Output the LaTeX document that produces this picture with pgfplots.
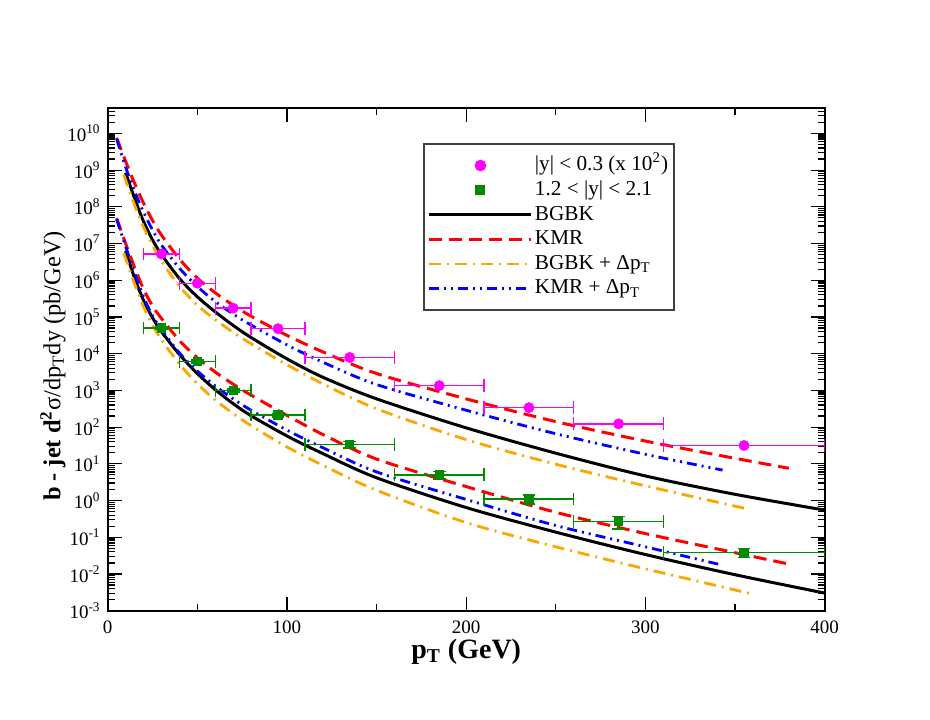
\documentclass[border=0pt]{standalone}
\usepackage{fontspec}
\setmainfont{Liberation Serif}
\usepackage{pgfplots}
\usepackage{pgfplotstable}
\pgfplotsset{compat=1.18}
\definecolor{grmag}{RGB}{255,0,255}
\definecolor{grgreen}{RGB}{0,139,0}
\definecolor{grorange}{RGB}{255,165,0}
\definecolor{grblue}{RGB}{0,0,255}
\definecolor{grred}{RGB}{255,0,0}

\pgfplotstableread{
x y xm xp
30 5.2e6 10 10
50 8.3e5 10 10
70 1.74e5 10 10
95 4.8e4 15 15
135 7.9e3 25 25
185 1.35e3 25 25
235 3.39e2 25 25
285 1.23e2 25 25
355 3.16e1 45 45
}\magdata

\pgfplotstableread{
x y xm xp ye
30 5.0e4 10 10 5e3
50 6.2e3 10 10 6e2
70 1.0e3 10 10 1e2
95 2.14e2 15 15 25
135 3.4e1 25 25 7
185 5.0 25 25 1.1
235 1.1 25 25 0.3
285 0.27 25 25 0.1
355 0.039 45 45 0.011
}\greendata

% upper group (|y|<0.3, x 10^2)
\pgfplotstableread{
x y
10 8.511e8
15 1.698e8
20 3.981e7
25 1.259e7
30 5.012e6
40 1.122e6
50 3.548e5
60 1.380e5
70 5.888e4
80 2.754e4
100 7.244e3
120 2.291e3
150 5.888e2
200 9.550e1
250 1.950e1
300 4.677
350 1.479
400 0.5495
}\ubgbk

\pgfplotstableread{
x y
5 7.586e9
10 1.738e9
15 4.365e8
20 1.259e8
25 4.266e7
30 1.698e7
40 3.802e6
50 1.148e6
60 4.571e5
70 2.089e5
80 1.047e5
100 3.162e4
120 1.122e4
150 2.884e3
200 5.888e2
250 1.413e2
300 4.169e1
350 1.413e1
380 7.586
}\ukmr

\pgfplotstableread{
x y
9 7.413e8
15 1.122e8
20 2.818e7
25 8.913e6
30 3.311e6
40 6.918e5
50 2.089e5
60 8.511e4
70 3.802e4
80 1.862e4
100 5.012e3
120 1.514e3
150 3.162e2
200 4.571e1
250 9.772
300 2.512
358 0.5754
}\ubgbkd

\pgfplotstableread{
x y
5 7.079e9
10 1.202e9
15 2.630e8
20 7.244e7
25 2.344e7
30 9.120e6
40 2.138e6
50 6.761e5
60 2.630e5
70 1.202e5
80 6.026e4
100 1.738e4
120 5.888e3
150 1.445e3
200 2.884e2
250 6.607e1
300 1.820e1
343 6.761
}\ukmrd

% lower group (1.2<|y|<2.1)
\pgfplotstableread{
x y
10 6.310e6
15 1.148e6
20 2.818e5
25 9.550e4
30 3.981e4
40 9.550e3
50 2.884e3
60 1.047e3
70 4.365e2
80 2.042e2
100 5.754e1
120 1.905e1
150 4.169
200 0.6457
250 0.1380
300 0.03388
350 0.009550
400 0.003020
}\lbgbk

\pgfplotstableread{
x y
5 4.898e7
10 1.0e7
15 2.239e6
20 5.754e5
25 1.995e5
30 9.120e4
40 2.291e4
50 7.762e3
60 3.162e3
70 1.479e3
80 7.413e2
100 2.089e2
120 6.310e1
150 1.349e1
200 2.399
250 0.4786
300 0.1259
350 0.03802
380 0.01862
}\lkmr

\pgfplotstableread{
x y
9 5.495e6
15 7.943e5
20 1.905e5
25 6.026e4
30 2.399e4
40 5.248e3
50 1.514e3
60 5.495e2
70 2.344e2
80 1.096e2
100 2.884e1
120 9.120
150 1.905
200 0.2512
250 0.05495
300 0.01380
360 0.002818
}\lbgbkd

\pgfplotstableread{
x y
5 4.571e7
10 8.318e6
15 1.585e6
20 3.548e5
25 1.072e5
30 4.571e4
40 1.047e4
50 3.388e3
60 1.318e3
70 5.888e2
80 2.884e2
100 8.318e1
120 2.754e1
150 6.026
200 1.072
250 0.2089
300 0.05495
343 0.01738
}\lkmrd

\begin{document}
\begin{tikzpicture}
\useasboundingbox (0,0) rectangle (465pt,359.5pt);
\begin{axis}[
  at={(53.85pt,54.15pt)}, anchor=south west,
  scale only axis, width=358.5pt, height=251.5pt,
  ymode=log,
  xmin=0, xmax=400, ymin=1e-3, ymax=5.01e10,
  xtick={0,100,200,300,400},
  xticklabels={0,100,200,300,400},
  minor x tick num=1,
  ytick={1e-3,1e-2,1e-1,1,1e1,1e2,1e3,1e4,1e5,1e6,1e7,1e8,1e9,1e10},
  yticklabels={10\textsuperscript{-3},10\textsuperscript{-2},10\textsuperscript{-1},10\textsuperscript{0},10\textsuperscript{1},10\textsuperscript{2},10\textsuperscript{3},10\textsuperscript{4},10\textsuperscript{5},10\textsuperscript{6},10\textsuperscript{7},10\textsuperscript{8},10\textsuperscript{9},10\textsuperscript{10}},
  minor ytick={2e-3,3e-3,4e-3,5e-3,6e-3,7e-3,8e-3,9e-3,
    2e-2,3e-2,4e-2,5e-2,6e-2,7e-2,8e-2,9e-2,
    2e-1,3e-1,4e-1,5e-1,6e-1,7e-1,8e-1,9e-1,
    2,3,4,5,6,7,8,9,
    2e1,3e1,4e1,5e1,6e1,7e1,8e1,9e1,
    2e2,3e2,4e2,5e2,6e2,7e2,8e2,9e2,
    2e3,3e3,4e3,5e3,6e3,7e3,8e3,9e3,
    2e4,3e4,4e4,5e4,6e4,7e4,8e4,9e4,
    2e5,3e5,4e5,5e5,6e5,7e5,8e5,9e5,
    2e6,3e6,4e6,5e6,6e6,7e6,8e6,9e6,
    2e7,3e7,4e7,5e7,6e7,7e7,8e7,9e7,
    2e8,3e8,4e8,5e8,6e8,7e8,8e8,9e8,
    2e9,3e9,4e9,5e9,6e9,7e9,8e9,9e9,
    2e10,3e10,4e10,5e10},
  tick pos=both,
  tick align=inside,
  major tick length=7pt,
  minor tick length=3.5pt,
  every tick/.style={black, line width=0.6pt},
  axis line style={line width=1pt},
  xticklabel style={font=\fontsize{9.5}{11}\selectfont, yshift=-1.3pt},
  yticklabel style={font=\fontsize{9.5}{11}\selectfont},
  xlabel={\textbf{p\textsubscript{T} (GeV)}},
  xlabel style={font=\fontsize{14}{16}\selectfont, at={(axis description cs:0.5,-0.0946)}, anchor=base},
  ylabel={\textbf{b - jet d\textsuperscript{2}}σ/dp\textsubscript{T}dy (pb/GeV)},
  ylabel style={font=\fontsize{12.2}{15}\selectfont, at={(axis description cs:-0.0763,0.4865)}, anchor=center},
  legend image code/.code={\draw[mark repeat=2,mark phase=2,#1] plot coordinates {(0pt,0pt) (25.5pt,0pt) (51pt,0pt)};},
  legend cell align=left,
  legend style={at={(axis description cs:0.440,0.929)}, anchor=north west,
    draw=black!75, line width=0.8pt, font=\fontsize{10.6}{12}\selectfont,
    inner xsep=2pt, inner ysep=4.5pt,
    nodes={inner sep=1pt, text height=7.8pt, text depth=2.5pt},
    /tikz/every even column/.append style={column sep=10.5pt}},
  error bars/error mark=|,
]
\addlegendimage{only marks, mark=*, mark size=2.5pt, color=grmag}
\addlegendimage{only marks, mark=square*, mark size=2.1pt, color=grgreen}
\addlegendimage{black, line width=1.5pt}
\addlegendimage{grred, line width=1.5pt, dash pattern=on 6.5pt off 3.5pt}
\addlegendimage{grorange, line width=1.4pt, dash pattern=on 6pt off 3pt on 1pt off 3pt}
\addlegendimage{grblue, line width=1.4pt, dash pattern=on 5pt off 2.5pt on 1pt off 2.5pt on 1pt off 2.5pt}
\legend{{|y| < 0.3 (x 10\textsuperscript{2})},{1.2 < |y| < 2.1},BGBK,KMR,{BGBK + Δp\textsubscript{T}},{KMR + Δp\textsubscript{T}}}

% theory curves
\addplot[forget plot, black, line width=1.5pt, smooth] table {\ubgbk};
\addplot[forget plot, black, line width=1.5pt, smooth] table {\lbgbk};
\addplot[forget plot, grred, line width=1.5pt, dash pattern=on 6.5pt off 3.5pt, smooth] table {\ukmr};
\addplot[forget plot, grred, line width=1.5pt, dash pattern=on 6.5pt off 3.5pt, smooth] table {\lkmr};
\addplot[forget plot, grorange, line width=1.4pt, dash pattern=on 6pt off 3pt on 1pt off 3pt, smooth] table {\ubgbkd};
\addplot[forget plot, grorange, line width=1.4pt, dash pattern=on 6pt off 3pt on 1pt off 3pt, smooth] table {\lbgbkd};
\addplot[forget plot, grblue, line width=1.4pt, dash pattern=on 5pt off 2.5pt on 1pt off 2.5pt on 1pt off 2.5pt, smooth] table {\ukmrd};
\addplot[forget plot, grblue, line width=1.4pt, dash pattern=on 5pt off 2.5pt on 1pt off 2.5pt on 1pt off 2.5pt, smooth] table {\lkmrd};

% data
\addplot[forget plot, only marks, mark=*, mark size=2.5pt, color=grmag,
  error bars/.cd, x dir=both, x explicit,
  error mark=|,
  error bar style={line width=0.7pt},
  error mark options={mark size=3.2pt, line width=0.7pt}]
  table[x=x, y=y, x error plus=xp, x error minus=xm] {\magdata};
\addplot[forget plot, only marks, mark=square*, mark size=2.1pt, color=grgreen,
  error bars/.cd, x dir=both, x explicit, y dir=both, y explicit,
  error mark=|,
  error bar style={line width=0.7pt},
  error mark options={mark size=3.2pt, line width=0.7pt}]
  table[x=x, y=y, x error plus=xp, x error minus=xm, y error=ye] {\greendata};
\end{axis}
\end{tikzpicture}
\end{document}
